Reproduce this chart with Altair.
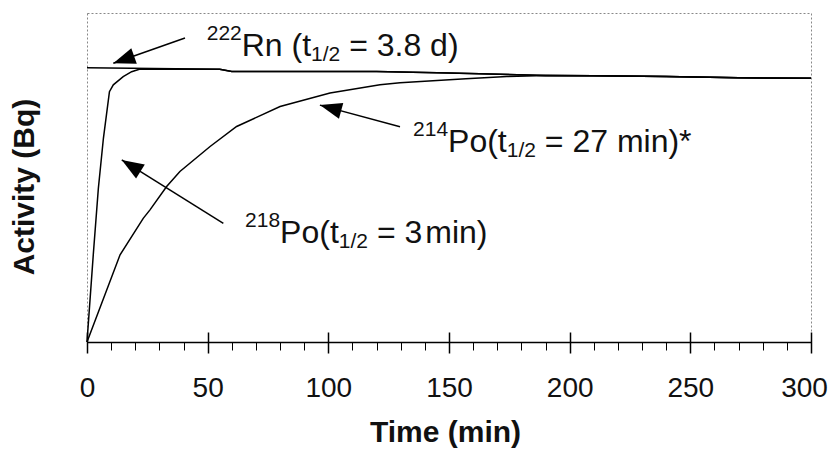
import math
import altair as alt
import pandas as pd

# ---------------- data ----------------
rn_t = [0, 55, 60, 120, 150, 190, 210, 240, 270, 300]
rn_a = [1.000, 0.995, 0.987, 0.987, 0.981, 0.972, 0.971, 0.968, 0.964, 0.962]

po218_t = [0, 2.6, 4.7, 6.8, 9.3, 10.9, 15, 18.5, 22, 55, 60, 120, 150, 190, 210, 240, 270, 300]
po218_a = [0, 0.318, 0.560, 0.743, 0.913, 0.938, 0.968, 0.986, 0.996, 0.995, 0.987, 0.987,
           0.981, 0.972, 0.971, 0.968, 0.964, 0.962]

po214_t = [0, 13.7, 23.3, 26.1, 33, 38.5, 51, 62, 80, 100.7, 121.4, 129.7, 157, 174,
           190, 210, 240, 270, 300]
po214_a = [0, 0.318, 0.451, 0.482, 0.567, 0.622, 0.713, 0.786, 0.859, 0.908, 0.938, 0.946,
           0.960, 0.968, 0.972, 0.971, 0.968, 0.964, 0.962]

x_ticks = list(range(0, 301, 10))
x_major = list(range(0, 301, 50))

# annotation texts, split into (text, kind) fragments
ann_parts = [
    [("222", "sup"), ("Rn (t", "main"), ("1/2", "sub"), (" = 3.8 d)", "main")],
    [("214", "sup"), ("Po(t", "main"), ("1/2", "sub"), (" = 27 min)*", "main")],
    [("218", "sup"), ("Po(t", "main"), ("1/2", "sub"), (" = 3", "main"), ("min)", "main_thin")],
]
y_title = "Activity (Bq)"
x_title = "Time (min)"

# ---------------- layout ----------------
W, H = 724, 329
XMAX, YMAX = 300, 1.2
PX = W / XMAX
PY = H / YMAX
FONT = "Liberation Sans"
S_MAIN, S_SMALL = 32, 21
SUP_DY, SUB_DY = -16, 5
THIN_GAP = 3

# anchor (left of superscript, main baseline) in data units
ann_anchor = [(49.6, 1.042), (135.1, 0.693), (65.5, 0.361)]
# arrows: tail (t, a) -> tip (t, a)
arrow_tail = [(40.6, 1.109), (129.7, 0.785), (56.5, 0.433)]
arrow_tip = [(10.9, 1.0165), (96.5, 0.864), (14.4, 0.664)]

AW = {'0': 556, '1': 556, '2': 556, '3': 556, '4': 556, '7': 556, '8': 556, '/': 278,
      ' ': 278, '(': 333, ')': 333, '=': 584, '.': 278, '*': 389, 'R': 722, 'n': 556,
      't': 278, 'P': 667, 'o': 556, 'm': 833, 'i': 222, 'd': 556}


def tw(s, fs):
    return sum(AW.get(c, 556) for c in s) / 1000 * fs


rows = []
for (ax, ay), parts in zip(ann_anchor, ann_parts):
    cur = 0.0
    for txt, kind in parts:
        fs = S_SMALL if kind in ("sup", "sub") else S_MAIN
        dy = SUP_DY if kind == "sup" else (SUB_DY if kind == "sub" else 0)
        if kind == "main_thin":
            cur += THIN_GAP
        lead = len(txt) - len(txt.lstrip(" "))
        cur += tw(" " * lead, fs)
        t = txt.lstrip(" ")
        rows.append({"x": ax + cur / PX, "y": ay - dy / PY, "text": t, "fs": fs})
        cur += tw(t, fs)
df_txt = pd.DataFrame(rows)

arr = []
for (t0, a0), (t1, a1) in zip(arrow_tail, arrow_tip):
    dxp = (t1 - t0) * PX
    dyp = -(a1 - a0) * PY
    ang = math.degrees(math.atan2(dxp, -dyp)) % 360
    arr.append({"t0": t0, "a0": a0, "t1": t1, "a1": a1, "ang": ang})
df_arr = pd.DataFrame(arr)

lines = []
for name, ts, as_ in [("Rn", rn_t, rn_a), ("Po218", po218_t, po218_a), ("Po214", po214_t, po214_a)]:
    for t, a in zip(ts, as_):
        lines.append({"series": name, "t": t, "a": a})
df_lines = pd.DataFrame(lines)

# y-axis title placed left of the plot (pixel offset converted to data units)
df_ytitle = pd.DataFrame([{"x": -53 / PX, "y": (H - 174) / PY, "text": y_title}])

xs = alt.Scale(domain=[0, XMAX], nice=False)
ys = alt.Scale(domain=[0, YMAX], nice=False)

bottom_axis = alt.Axis(
    values=x_ticks,
    labelExpr="datum.value % 50 === 0 ? datum.label : ''",
    tickSize=8, tickWidth=1, tickColor="black",
    domainColor="black", domainWidth=1.5,
    labelFont=FONT, labelFontSize=28, labelColor="#111",
    labelPadding=24, labelFlush=False, labelOverlap=False,
    labelOffset=alt.condition("datum.value === 300", alt.value(-7), alt.value(0)),
    title=x_title, titleFont=FONT, titleFontSize=30, titleFontWeight="bold",
    titleColor="#111", titleX=358, titleY=99, titleBaseline="alphabetic",
    titleAnchor="middle", titleAlign="center",
    grid=False,
)
top_axis = alt.Axis(
    orient="top", offset=-(H + 11), values=x_major, tickSize=21, tickWidth=1.5,
    tickColor="black", labels=False, domain=False, title=None, grid=False,
)
y_axis = alt.Axis(
    ticks=False, labels=False, grid=False, title=None,
    domain=True, domainColor="#888", domainDash=[2, 2], domainWidth=1,
)

curves = alt.Chart(df_lines).mark_line(color="black", strokeWidth=1.5).encode(
    x=alt.X("t:Q", scale=xs, axis=bottom_axis),
    y=alt.Y("a:Q", scale=ys, axis=y_axis),
    detail="series:N",
)

arrow_lines = alt.Chart(df_arr).mark_rule(color="black", strokeWidth=1.5).encode(
    x=alt.X("t0:Q", scale=xs, axis=top_axis),
    x2="t1:Q",
    y=alt.Y("a0:Q", scale=ys, axis=None),
    y2="a1:Q",
)

arrow_heads = alt.Chart(df_arr).mark_point(
    shape="M0,0L0.75,2L-0.75,2Z", filled=True, color="black", opacity=1, size=484,
    strokeWidth=0,
).encode(
    x=alt.X("t1:Q", scale=xs, axis=None),
    y=alt.Y("a1:Q", scale=ys, axis=None),
    angle=alt.Angle("ang:Q", scale=None),
)

labels = alt.Chart(df_txt).mark_text(
    align="left", baseline="alphabetic", font=FONT, color="#111",
).encode(
    x=alt.X("x:Q", scale=xs, axis=None),
    y=alt.Y("y:Q", scale=ys, axis=None),
    text="text:N",
    size=alt.Size("fs:Q", scale=None),
)

ytitle = alt.Chart(df_ytitle).mark_text(
    align="center", baseline="alphabetic", font=FONT, fontSize=30, fontWeight="bold",
    color="#111", angle=270,
).encode(
    x=alt.X("x:Q", scale=xs, axis=None),
    y=alt.Y("y:Q", scale=ys, axis=None),
    text="text:N",
)

chart = alt.layer(curves, arrow_lines, arrow_heads, labels, ytitle).resolve_axis(
    x="independent"
).properties(
    width=W, height=H,
    autosize=alt.AutoSizeParams(type="none"),
    padding={"left": 79, "top": 5, "right": 17, "bottom": 108},
    background="white",
).configure_view(stroke="#888", strokeDash=[2, 2], strokeWidth=1)

chart.save("out.html", embed_options={"renderer": "svg", "actions": False})
